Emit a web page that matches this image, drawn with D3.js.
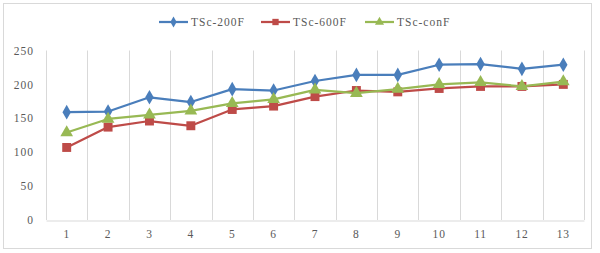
<!DOCTYPE html>
<html>
<head>
<meta charset="utf-8">
<script src="https://cdn.jsdelivr.net/npm/d3@7"></script>
<style>
    body { margin: 0; background: #fff; }
    svg { display: block; }
</style>
</head>
<body>
<div id="chart"></div>
<script>
// chart data
const categories = ["1", "2", "3", "4", "5", "6", "7", "8", "9", "10", "11", "12", "13"];
const seriesNames = ["TSc-200F", "TSc-600F", "TSc-conF"];
const tsc200 = [159, 160, 181, 174, 193, 191, 205, 214, 214, 229, 230, 223, 229];
const tsc600 = [107, 137, 146, 139, 163, 168, 182, 191, 189, 194, 197, 197, 200];
const tscCon = [129, 149, 155, 161, 172, 178, 192, 187, 193, 200, 203, 197, 204];
const yTicks = [0, 50, 100, 150, 200, 250];

const seriesList = [
    {name: seriesNames[0], values: tsc200, color: "#4a7ebb", shape: d3.symbolDiamond, size: 62, legSize: 34},
    {name: seriesNames[1], values: tsc600, color: "#be4b48", shape: d3.symbolSquare, size: 80, legSize: 40},
    {name: seriesNames[2], values: tscCon, color: "#98b954", shape: d3.symbolTriangle, size: 70, legSize: 36}
];

const W = 600, H = 253;
const margin = {top: 50.5, right: 16, bottom: 33, left: 46};
const fontFam = "'Liberation Serif', 'DejaVu Serif', serif";

const svg = d3.select("#chart").append("svg")
    .attr("width", W)
    .attr("height", H);

// outer frame
svg.append("rect")
    .attr("x", 3.5).attr("y", 3.5)
    .attr("width", 588).attr("height", 245)
    .attr("fill", "#fff")
    .attr("stroke", "#d9d9d9");

const x = d3.scaleBand()
    .domain(categories)
    .range([margin.left, W - margin.right])
    .padding(0);

const y = d3.scaleLinear()
    .domain([0, 250])
    .range([H - margin.bottom, margin.top]);

// vertical gridlines at band edges
const edges = categories.map(c => x(c)).concat([x.range()[1]]);
svg.append("g")
    .selectAll("line")
    .data(edges)
    .enter().append("line")
    .attr("x1", d => Math.round(d) + 0.5)
    .attr("x2", d => Math.round(d) + 0.5)
    .attr("y1", y(250))
    .attr("y2", y(0))
    .attr("stroke", "#d9d9d9")
    .attr("stroke-width", 1);

// x axis
const xAxis = svg.append("g")
    .attr("transform", `translate(0, ${Math.round(y(0)) + 0.5})`)
    .call(d3.axisBottom(x).tickSize(0).tickSizeOuter(0).tickPadding(9));
xAxis.select(".domain").attr("stroke", "#d9d9d9");
xAxis.selectAll("text")
    .attr("fill", "#595959")
    .attr("font-family", fontFam)
    .attr("font-size", "11.5px")
    .attr("letter-spacing", "0.8px");

// y axis
const yAxis = svg.append("g")
    .attr("transform", `translate(${margin.left}, 0)`)
    .call(d3.axisLeft(y).tickValues(yTicks).tickSize(0).tickPadding(12));
yAxis.select(".domain").remove();
yAxis.selectAll("text")
    .attr("fill", "#595959")
    .attr("font-family", fontFam)
    .attr("font-size", "11.5px")
    .attr("letter-spacing", "1px");

// lines + markers
const line = d3.line()
    .x((d, i) => x(categories[i]) + x.bandwidth() / 2)
    .y(d => y(d));

seriesList.forEach(s => {
    svg.append("path")
        .datum(s.values)
        .attr("fill", "none")
        .attr("stroke", s.color)
        .attr("stroke-width", 2.25)
        .attr("stroke-linejoin", "round")
        .attr("d", line);

    svg.append("g")
        .selectAll("path")
        .data(s.values)
        .enter().append("path")
        .attr("d", d3.symbol().type(s.shape).size(s.size))
        .attr("transform", (d, i) => `translate(${x(categories[i]) + x.bandwidth() / 2}, ${y(d)})`)
        .attr("fill", s.color);
});

// legend
const legendX = [159, 261, 365];
const legend = svg.append("g")
    .selectAll("g")
    .data(seriesList)
    .enter().append("g")
    .attr("transform", (d, i) => `translate(${legendX[i]}, 22)`);

legend.append("line")
    .attr("x1", 0).attr("x2", 29)
    .attr("stroke", d => d.color)
    .attr("stroke-width", 2.25);

legend.append("path")
    .attr("d", d => d3.symbol().type(d.shape).size(d.legSize)())
    .attr("transform", "translate(14.5, 0)")
    .attr("fill", d => d.color);

legend.append("text")
    .attr("x", 32)
    .attr("dy", "0.35em")
    .attr("fill", "#595959")
    .attr("font-family", fontFam)
    .attr("font-size", "11.5px")
    .attr("letter-spacing", "1px")
    .text(d => d.name);
</script>
</body>
</html>
